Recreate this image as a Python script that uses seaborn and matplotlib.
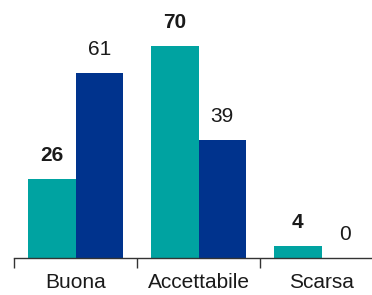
import numpy as np
import pandas as pd
import matplotlib.pyplot as plt
import seaborn as sns

categories = ['Buona', 'Accettabile', 'Scarsa']
series_a = [26, 70, 4]
series_b = [61, 39, 0]
series_names = ['A', 'B']
colors = ['#00a3a1', '#00338d']

df = pd.DataFrame({
    'cat': categories * 2,
    'val': series_a + series_b,
    'serie': [series_names[0]] * 3 + [series_names[1]] * 3,
})

sns.set_style('white')
plt.rcParams['font.family'] = ['Liberation Sans', 'DejaVu Sans']

fig = plt.figure(figsize=(3.72, 2.95), dpi=100)
ax = fig.add_axes([14 / 372, 37 / 295, 1 - 14 / 372, 258 / 295])

sns.barplot(data=df, x='cat', y='val', hue='serie', palette=colors,
            width=0.77, gap=0, legend=False, ax=ax, saturation=1, linewidth=0)

for i, cont in enumerate(ax.containers):
    ax.bar_label(cont, padding=10, fontsize=15,
                 fontweight='bold' if i == 0 else 'normal', color='#1a1a1a')

ax.set_ylim(0, 85.1)
ax.set_xlim(-0.5, 2.41)
ax.set_yticks([])
ax.set_xticks([-0.5, 0.5, 1.5])
ax.set_xticklabels([])
ax.set_xticks([0, 1, 2], minor=True)
ax.set_xticklabels(categories, minor=True, fontsize=15, color='#1a1a1a')
ax.tick_params(axis='x', which='major', bottom=True, length=7, width=1,
               color='#333333', direction='out')
ax.tick_params(axis='x', which='minor', bottom=True, length=0, pad=11)
ax.set_xlabel('')
ax.set_ylabel('')
for s in ['top', 'right', 'left']:
    ax.spines[s].set_visible(False)
ax.spines['bottom'].set_color('#333333')
ax.spines['bottom'].set_linewidth(1)

fig.savefig('out.png', dpi=100)
